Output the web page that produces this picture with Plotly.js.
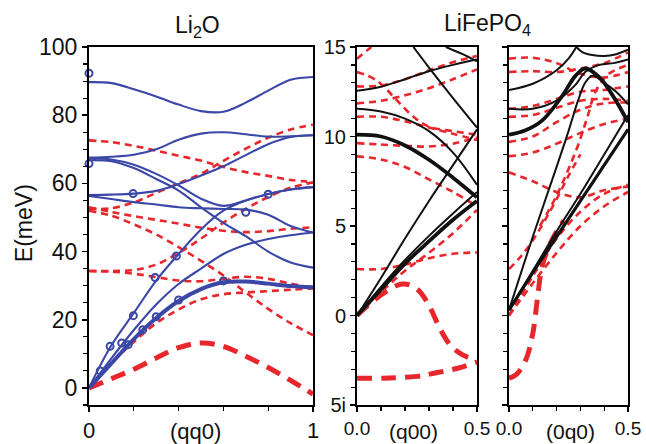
<!DOCTYPE html>
<html><head><meta charset="utf-8">
<script src="https://cdn.plot.ly/plotly-3.0.1.min.js"></script>
<style>html,body{margin:0;padding:0;background:#fff}</style>
</head><body><div id="chart" style="width:646px;height:444px"></div>
<script>
// ---------- Panel 1: Li2O (qq0) ----------
const g1 = [0,0.1,0.2,0.3,0.4,0.5,0.6,0.7,0.8,0.9,1];
const li2oBlue1 = [89.7,89.4,87.6,85.5,83.1,81.2,81,83.7,87.2,90.4,91.2];
const li2oBlue2 = [67.5,67.8,68.4,70,72.8,74.6,75,74.4,73.7,73.8,74.1];
const li2oBlue3 = [56.6,56.7,57,57.8,59.8,62.3,65,68.3,71.5,73.6,74.1];
const li2oBlue4 = [67.5,67,65.5,62.8,59.4,55.5,53.4,55,56.9,58.2,58.9];
const li2oBlue5 = [66.8,66.5,64.5,61.3,57.9,53,48.4,44.5,40,36.8,35.3];
const li2oBlue6 = [56.3,55.4,54.5,53.8,53,52.7,52.5,52.3,50.8,47.5,45.6];
const li2oBlue7 = [0,12.5,22,31.5,39.3,46.5,52,55,56.9,58.2,58.9];
const li2oBlue8 = [0,8.7,17,24.5,30.5,35,39.3,42,43.7,44.8,45.6];
const li2oBlueThick = [0,7.2,14.3,20.5,25.5,29,31,31.2,30.6,29.9,29.5];
const li2oRed1 = [72.6,72.1,71,69.6,68.1,66.7,64.8,63.3,62.2,61,60.4];
const li2oRed2 = [52.5,52.7,54.4,57.2,60,62.8,66.6,70.2,73.4,75.8,77.2];
const li2oRed3 = [53,51.6,50.4,49.3,48.2,47,46.1,45.7,46,46.7,47.1];
const li2oRed4 = [52,50.5,48,45,41.3,37.3,33,28,23.2,19,15.5];
const li2oRed5 = [34.3,34.3,34.6,36.2,39.6,43.8,48.5,52.5,56,58.7,60.3];
const li2oRed6 = [34.3,34.1,33.5,32.5,31.5,31.3,32,32.6,32,30.6,29.3];
const li2oRed7 = [0,7.2,13.5,19,23,26,27.5,28,28.4,28.8,29.2];
const li2oRedThick = [0,2.7,5.5,8.8,11.8,13.2,12.2,9.3,6,2.2,-1.8];
const li2oExpX = [0,0,0.197,0.094,0.146,0.198,0.295,0.39,0.24,0.30,0.40,0.60,0.70,0.80,0.05,0.175];
const li2oExpY = [92.3,65.8,57,12.2,13.2,21.2,32.4,38.7,17.1,20.9,25.8,31.4,51.5,56.8,5,12.7];
const li2oYTicks = [0,20,40,60,80,100];
const li2oXTicks = [0,1];

// ---------- Panel 2: LiFePO4 (q00) ----------
const g2 = [0,0.1,0.2,0.3,0.4,0.5];
const q00K1x = [0.235,0.3,0.4,0.5], q00K1y = [15,13.85,12.15,10.5];
const q00K2x = [0.37,0.44,0.5], q00K2y = [15,14.6,14.2];
const q00K3 = [12.55,12.78,13.2,13.65,14.0,14.3];
const q00K4 = [11.55,11.4,11.0,10.3,9.1,7.3];
const q00KThick1 = [10.1,10.0,9.5,8.7,7.7,6.6];
const q00K6 = [0,2.1,4.3,6.4,8.4,10.4];
const q00KThick2 = [0,1.45,2.9,4.15,5.35,6.4];
const q00K8 = [0,1.6,3.1,4.45,5.7,6.9];
const q00R1x = [0,0.06], q00R1y = [14.35,15];
const q00R2x = [0,0.08,0.165,0.235,0.3,0.4,0.5], q00R2y = [13.6,13.15,12.04,11.1,10.55,10.3,10.1];
const q00R3 = [12.8,12.85,13.2,13.7,14.15,14.5];
const q00R4 = [11.85,12.0,12.3,12.7,13.2,13.75];
const q00R5 = [11.1,11.1,10.85,10.5,10.15,9.8];
const q00R6 = [9.63,9.55,9.48,9.44,9.6,9.95];
const q00R7 = [8.89,8.72,8.3,7.6,6.9,6.1];
const q00R8 = [0,1.3,2.5,3.5,4.6,5.9];
const q00R9 = [2.6,2.6,2.85,3.2,3.45,3.52];
const q00RThick1x = [0,0.096,0.19,0.25,0.30,0.346,0.39,0.44,0.5];
const q00RThick1y = [0,1.11,1.76,1.48,0.56,-0.74,-1.67,-2.2,-2.5];
const q00RThick2x = [0,0.11,0.25,0.33,0.415,0.5];
const q00RThick2y = [-3.5,-3.5,-3.4,-3.2,-2.96,-2.6];

// ---------- Panel 3: LiFePO4 (0q0) ----------
const q0KA1x = [0,0.1,0.2,0.25,0.283], q0KA1y = [12.6,12.95,13.7,14.35,15];
const q0KA2x = [0.283,0.31,0.35,0.4,0.45,0.5], q0KA2y = [15,14.7,14.55,14.5,14.6,14.85];
const q0KBx = [0,0.1,0.2,0.28,0.32,0.38,0.44,0.5], q0KBy = [11.55,11.55,12.0,12.9,13.6,14.0,14.1,14.3];
const q0KThickx = [0,0.07,0.14,0.22,0.28,0.32,0.38,0.44,0.5], q0KThicky = [10.1,10.35,10.9,12.2,13.4,13.8,13.3,12.2,10.8];
const q0KDx = [0,0.1,0.2,0.25,0.29,0.32,0.35,0.4,0.45,0.5], q0KDy = [0.3,4.4,8.3,10.3,12.0,13.0,13.4,13.0,12.5,11.8];
const q0KE = [0.3,2.5,4.7,6.8,9.0,11.2];
const q0KF = [0.3,2.4,4.4,6.4,8.4,10.4];
const q0R1 = [14.35,14.4,14.1,13.5,13.3,13.6];
const q0R2 = [13.6,13.65,13.6,13.8,14.1,14.7];
const q0R3 = [11.55,11.7,12.1,12.5,12.6,12.8];
const q0R4 = [11.1,11.2,11.6,12.0,12.1,12.0];
const q0R5 = [9.7,10.0,10.8,11.5,11.85,11.9];
const q0R6 = [8.9,9.1,9.6,10.2,10.7,11.0];
const q0R7 = [8.0,7.5,6.9,6.6,7.0,7.2];
const q0R9x = [0,0.05,0.1,0.15,0.2,0.25,0.3], q0R9y = [2.6,3.3,4.2,5.3,6.5,7.8,9];
const q0R10 = [0,2.2,4.3,5.8,6.8,7.3];
const q0R11 = [0,1.8,3.5,5.0,6.1,6.9];
const q0R12x = [0.13,0.2,0.283,0.325,0.367,0.42,0.5], q0R12y = [5,6.7,9.26,10.9,12.6,13.5,14.0];
const q0RThickx = [0,0.03,0.07,0.1,0.12,0.14,0.18,0.23], q0RThicky = [-3.5,-3.3,-2.5,-1.0,1.0,2.8,4.2,5.3];

const feYTicks = [-5,0,5,10,15];
const feYLabels = ['5i','0','5','10','15'];
const feXTicks = [0,0.5];
const feXLabels = ['0.0','0.5'];

// ---------- styles ----------
const BLUE = '#3a47a6', RED = '#e8262b', BLACK = '#111111';
const traces = [];
function add(xs, ys, ax, color, width, dash) {
  traces.push({x: xs, y: ys, xaxis: ax[0], yaxis: ax[1], type: 'scatter', mode: 'lines',
    line: {color: color, width: width, dash: dash || 'solid', shape: 'spline', smoothing: 1},
    hoverinfo: 'skip', showlegend: false});
}
const P1 = ['x','y'], P2 = ['x2','y2'], P3 = ['x3','y3'];
const thinDash = '7px,5px', thickDash = '15px,9px';

[li2oRed1, li2oRed2, li2oRed3, li2oRed4, li2oRed5, li2oRed6, li2oRed7].forEach(a => add(g1, a, P1, RED, 2.6, thinDash));
add(g1, li2oRedThick, P1, RED, 5, thickDash);
[li2oBlue1, li2oBlue2, li2oBlue3, li2oBlue4, li2oBlue5, li2oBlue6, li2oBlue7, li2oBlue8].forEach(a => add(g1, a, P1, BLUE, 2.1));
add(g1, li2oBlueThick, P1, BLUE, 4);
traces.push({x: li2oExpX, y: li2oExpY, xaxis: 'x', yaxis: 'y', type: 'scatter', mode: 'markers', cliponaxis: false,
  marker: {symbol: 'circle-open', size: 7, color: BLUE, line: {width: 2, color: BLUE}}, hoverinfo: 'skip', showlegend: false});

add(q00R1x, q00R1y, P2, RED, 2.6, thinDash);
add(q00R2x, q00R2y, P2, RED, 2.6, thinDash);
[q00R3, q00R4, q00R5, q00R6, q00R7, q00R8, q00R9].forEach(a => add(g2, a, P2, RED, 2.6, thinDash));
add(q00RThick1x, q00RThick1y, P2, RED, 5, thickDash);
add(q00RThick2x, q00RThick2y, P2, RED, 5, thickDash);
add(q00K1x, q00K1y, P2, BLACK, 2);
add(q00K2x, q00K2y, P2, BLACK, 2);
[q00K3, q00K4, q00K6, q00K8].forEach(a => add(g2, a, P2, BLACK, 2));
add(g2, q00KThick1, P2, BLACK, 3.8);
add(g2, q00KThick2, P2, BLACK, 3.8);

[q0R1, q0R2, q0R3, q0R4, q0R5, q0R6, q0R7, q0R10, q0R11].forEach(a => add(g2, a, P3, RED, 2.6, thinDash));
add(q0R9x, q0R9y, P3, RED, 2.6, thinDash);
add(q0R12x, q0R12y, P3, RED, 2.6, thinDash);
add(q0RThickx, q0RThicky, P3, RED, 5, thickDash);
add(q0KA1x, q0KA1y, P3, BLACK, 2);
add(q0KA2x, q0KA2y, P3, BLACK, 2);
add(q0KBx, q0KBy, P3, BLACK, 2);
add(q0KDx, q0KDy, P3, BLACK, 2);
add(g2, q0KE, P3, BLACK, 2);
add(g2, q0KF, P3, BLACK, 3.2);
add(q0KThickx, q0KThicky, P3, BLACK, 3.8);

const FONT = 'Liberation Sans, Arial, sans-serif';
function axisBase(extra) {
  return Object.assign({showline: true, mirror: true, linecolor: '#000', linewidth: 2,
    ticks: 'outside', ticklen: 5, tickwidth: 1.5, tickcolor: '#000', showgrid: false, zeroline: false,
    tickmode: 'array', fixedrange: true}, extra);
}
function minorTicks(step, start) {
  return {ticks: 'outside', dtick: step, tick0: start, ticklen: 4, tickwidth: 1.2, tickcolor: '#000', showgrid: false};
}
const layout = {
  width: 646, height: 444,
  margin: {l: 0, r: 0, t: 47, b: 39},
  paper_bgcolor: '#fff', plot_bgcolor: '#fff',
  font: {family: FONT, color: '#111'},
  xaxis: axisBase({domain: [89/646, 313/646], range: [0, 1], anchor: 'y', tickvals: li2oXTicks, ticktext: li2oXTicks.map(String), tickfont: {size: 22}, minor: minorTicks(0.2, 0)}),
  yaxis: axisBase({domain: [0, 1], range: [-5, 100], anchor: 'x', tickvals: li2oYTicks, ticktext: li2oYTicks.map(String), tickfont: {size: 23}, minor: minorTicks(5, 0)}),
  xaxis2: axisBase({domain: [357/646, 477/646], range: [0, 0.5], anchor: 'y2', tickvals: feXTicks, ticktext: feXLabels, tickfont: {size: 19}, minor: minorTicks(0.1, 0)}),
  yaxis2: axisBase({domain: [0, 1], range: [-5, 15], anchor: 'x2', tickvals: feYTicks, ticktext: feYLabels, tickfont: {size: 20}, minor: minorTicks(1, 0)}),
  xaxis3: axisBase({domain: [509/646, 628/646], range: [0, 0.5], anchor: 'y3', tickvals: feXTicks, ticktext: feXLabels, tickfont: {size: 19}, minor: minorTicks(0.1, 0)}),
  yaxis3: axisBase({domain: [0, 1], range: [-5, 15], anchor: 'x3', tickvals: feYTicks, showticklabels: false, minor: minorTicks(1, 0)}),
  annotations: [
    {text: 'Li<sub>2</sub>O', xref: 'paper', yref: 'paper', x: 197/646, y: 1.058, showarrow: false, font: {size: 23}, xanchor: 'center', yanchor: 'middle'},
    {text: 'LiFePO<sub>4</sub>', xref: 'paper', yref: 'paper', x: 488/646, y: 1.064, showarrow: false, font: {size: 23}, xanchor: 'center', yanchor: 'middle'},
    {text: 'E(meV)', xref: 'paper', yref: 'paper', x: 24/646, y: 0.508, textangle: -90, showarrow: false, font: {size: 23}, xanchor: 'center', yanchor: 'middle'},
    {text: '(qq0)', xref: 'paper', yref: 'paper', x: 195/646, y: -0.073, showarrow: false, font: {size: 22}, xanchor: 'center', yanchor: 'middle'},
    {text: '(q00)', xref: 'paper', yref: 'paper', x: 413/646, y: -0.073, showarrow: false, font: {size: 21}, xanchor: 'center', yanchor: 'middle'},
    {text: '(0q0)', xref: 'paper', yref: 'paper', x: 570/646, y: -0.073, showarrow: false, font: {size: 21}, xanchor: 'center', yanchor: 'middle'}
  ]
};
Plotly.newPlot('chart', traces, layout, {displayModeBar: false, staticPlot: true});
</script></body></html>
